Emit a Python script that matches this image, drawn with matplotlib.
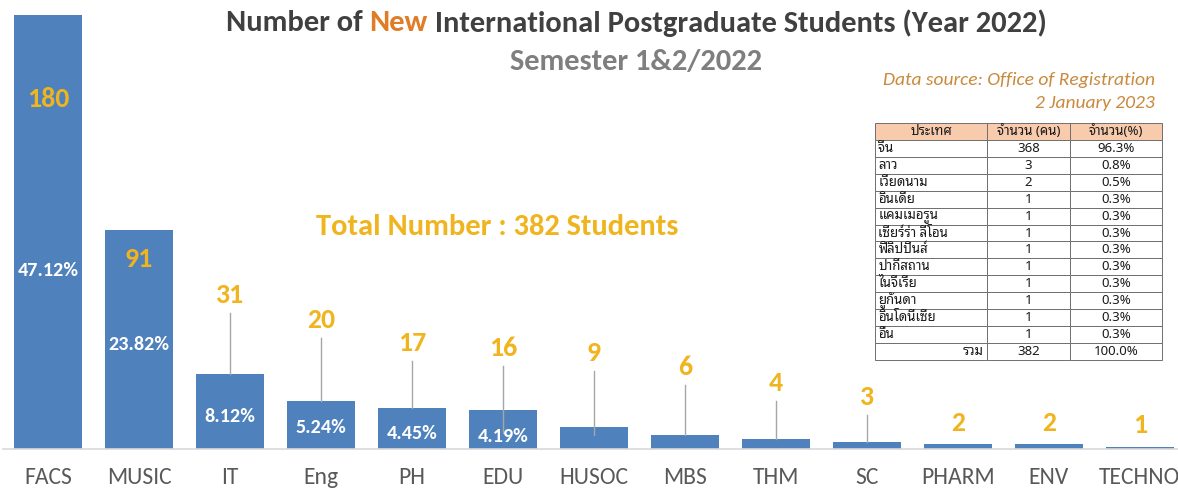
import matplotlib
matplotlib.use("Agg")
import matplotlib.pyplot as plt

# ---- data ----
faculties = ["FACS", "MUSIC", "IT", "Eng", "PH", "EDU", "HUSOC", "MBS",
             "THM", "SC", "PHARM", "ENV", "TECHNO"]
students = [180, 91, 31, 20, 17, 16, 9, 6, 4, 3, 2, 2, 1]
percents = [47.12, 23.82, 8.12, 5.24, 4.45, 4.19]
total_students = 382

table_header = ["ประเทศ", "จำนวน (คน)", "จำนวน(%)"]
countries = ["จีน", "ลาว", "เวียดนาม", "อินเดีย", "แคมเมอรูน", "เซียร์ร่า ลีโอน",
             "ฟิลิปปินส์", "ปากีสถาน", "ไนจีเรีย", "ยูกันดา", "อินโดนีเซีย", "อื่น"]
country_count = [368, 3, 2, 1, 1, 1, 1, 1, 1, 1, 1, 1]
country_pct = [96.3, 0.8, 0.5, 0.3, 0.3, 0.3, 0.3, 0.3, 0.3, 0.3, 0.3, 0.3]

# ---- label layout (data units) ----
label_y = [145.2, 78.8, 63.9, 53.5, 44.0, 41.9, 39.8, 34.0, 27.4, 21.6, 10.8, 10.8, 10.0]
pct_y = [74.2, 43.5, 13.3, 9.1, 6.6, 5.0]
leader_idx = [2, 3, 4, 5, 6, 7, 8, 9]
leader_bottom = {5: 6.6, 6: 5.8}

BAR = "#4F81BD"
GOLD = "#F0B41E"
DARK = "#404040"
ORANGE = "#E07B26"
FONT = ["Carlito", "DejaVu Sans"]
plt.rcParams["font.family"] = FONT

fig = plt.figure(figsize=(11.78, 4.90), dpi=100)
ax = fig.add_axes([3 / 1178, 41 / 490, 1175 / 1178, 449 / 490])

x = list(range(len(faculties)))
ax.bar(x, students, width=0.747, color=BAR, zorder=2)
ax.set_xlim(-0.495, 12.42)
ax.set_ylim(0, 186.2)

for s in ["top", "left", "right"]:
    ax.spines[s].set_visible(False)
ax.spines["bottom"].set_color("#D9D9D9")
ax.spines["bottom"].set_linewidth(1.2)
ax.set_yticks([])
ax.set_xticks(x)
ax.set_xticklabels(faculties, fontsize=17, color="#595959")
ax.tick_params(axis="x", length=0, pad=13)

for i, v in enumerate(students):
    ax.text(i, label_y[i], str(v), ha="center", va="center",
            fontsize=20, fontweight="bold", color=GOLD, zorder=4)
for i, p in enumerate(percents):
    ax.text(i, pct_y[i], f"{p:.2f}%", ha="center", va="center",
            fontsize=14.5, fontweight="bold", color="white", zorder=4)
for i in leader_idx:
    bottom = leader_bottom.get(i, students[i])
    ax.plot([i, i], [label_y[i] - 7.6, bottom], color="#A6A6A6", lw=1.0, zorder=3)

# ---- titles ----
fig.canvas.draw()
renderer = fig.canvas.get_renderer()
parts = [("Number of ", DARK), ("New", ORANGE),
         (" International Postgraduate Students (Year 2022)", DARK)]
ty = 1 - 23 / 490
texts = [fig.text(0, ty, s, color=c, fontsize=22, fontweight="bold",
                  ha="left", va="center") for s, c in parts]
widths = [t.get_window_extent(renderer).width for t in texts]
x0 = 636 - sum(widths) / 2
for t, w in zip(texts, widths):
    t.set_x(x0 / 1178)
    x0 += w

fig.text(636 / 1178, 1 - 62 / 490, "Semester 1&2/2022", ha="center", va="center",
         fontsize=22, fontweight="bold", color="#7F7F7F")
fig.text(497 / 1178, 1 - 227 / 490, f"Total Number : {total_students} Students",
         ha="center", va="center", fontsize=22, fontweight="bold", color=GOLD)
fig.text(1155 / 1178, 1 - 80 / 490, "Data source: Office of Registration",
         ha="right", va="center", fontsize=14, style="italic", color="#C98A3E")
fig.text(1155 / 1178, 1 - 103 / 490, "2 January 2023",
         ha="right", va="center", fontsize=14, style="italic", color="#C98A3E")

# ---- country table ----
tax = fig.add_axes([875 / 1178, 130 / 490, 287 / 1178, 237 / 490])
tax.axis("off")
rows = [[c, str(n), f"{p:.1f}%"] for c, n, p in zip(countries, country_count, country_pct)]
rows.append(["รวม", str(total_students), "100.0%"])
tbl = tax.table(cellText=rows, colLabels=table_header, bbox=[0, 0, 1, 1],
                colWidths=[112, 83, 92], cellLoc="center")
tbl.auto_set_font_size(False)
thai = ["Noto Sans", "Noto Sans Thai Looped"]
for (r, c), cell in tbl.get_celld().items():
    cell.set_edgecolor("#6F6F6F")
    cell.set_linewidth(0.7)
    txt = cell.get_text()
    txt.set_fontfamily(thai)
    txt.set_fontsize(9.5)
    txt.set_color("#1A1A1A")
    if r == 0:
        cell.set_facecolor("#F8CBAD")
    elif c == 0:
        cell.set_text_props(ha="right" if r == len(rows) else "left")
        cell.PAD = 0.03

fig.savefig("out.png", dpi=100)
